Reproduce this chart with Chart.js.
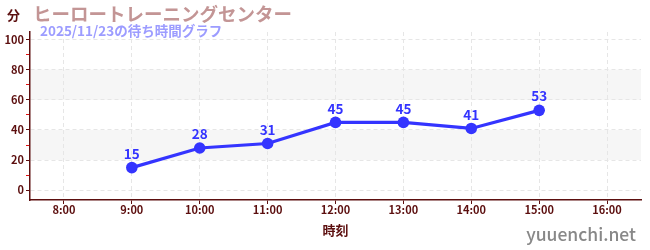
<!DOCTYPE html>
<html lang="ja">
<head>
<meta charset="utf-8">
<script src="https://cdn.jsdelivr.net/npm/chart.js@4"></script>
<style>
  html, body { margin: 0; padding: 0; background: #fff; }
  #wrap { width: 650px; height: 250px; position: relative; }
</style>
</head>
<body>
<div id="wrap"><canvas id="waitChart" width="650" height="250"></canvas></div>
<script>
// Data
const hours = [9, 10, 11, 12, 13, 14, 15];
const waitMinutes = [15, 28, 31, 45, 45, 41, 53];
const hourTicks = [8, 9, 10, 11, 12, 13, 14, 15, 16];
const titleText = 'ヒーロートレーニングセンター';
const subtitleText = '2025/11/23の待ち時間グラフ';
const yUnit = '分';
const xTitle = '時刻';
const watermark = 'yuuenchi.net';

const FONT = '"Noto Sans CJK JP", "Noto Sans", sans-serif';
const DARK = '#5c0f0f';
const BLUE = '#3434ff';

// Light gray bands behind the plot (drawn before the grid)
const bandsPlugin = {
  id: 'bands',
  beforeDraw(chart) {
    const { ctx, chartArea, scales } = chart;
    const y = scales.y;
    ctx.save();
    ctx.fillStyle = '#f6f6f6';
    [[20, 40], [60, 80]].forEach(([a, b]) => {
      const top = y.getPixelForValue(b);
      const bottom = y.getPixelForValue(a);
      ctx.fillRect(chartArea.left, top, chartArea.right - chartArea.left, bottom - top);
    });
    ctx.restore();
  }
};

// Value labels, titles and watermark
const textPlugin = {
  id: 'texts',
  afterDatasetsDraw(chart) {
    const { ctx } = chart;
    const meta = chart.getDatasetMeta(0);
    ctx.save();
    ctx.fillStyle = BLUE;
    ctx.font = 'bold 13.5px ' + FONT;
    ctx.textAlign = 'center';
    ctx.textBaseline = 'middle';
    meta.data.forEach((pt, i) => {
      ctx.fillText(String(waitMinutes[i]), pt.x, pt.y - 14);
    });
    ctx.restore();
  },
  afterDraw(chart) {
    const { ctx } = chart;
    ctx.save();
    ctx.textBaseline = 'middle';
    ctx.textAlign = 'left';

    ctx.fillStyle = DARK;
    ctx.font = 'bold 13px ' + FONT;
    ctx.fillText(yUnit, 7, 15);

    ctx.fillStyle = '#c39595';
    ctx.font = 'bold 18.5px ' + FONT;
    ctx.fillText(titleText, 33, 14);

    ctx.fillStyle = '#9c9cff';
    ctx.font = 'bold 13.5px ' + FONT;
    ctx.fillText(subtitleText, 40, 31);

    ctx.fillStyle = '#888888';
    ctx.font = '500 17.5px ' + FONT;
    ctx.textAlign = 'right';
    ctx.fillText(watermark, 636, 234);
    ctx.restore();
  }
};

new Chart(document.getElementById('waitChart'), {
  type: 'line',
  data: {
    datasets: [{
      data: hours.map((h, i) => ({ x: h, y: waitMinutes[i] })),
      borderColor: BLUE,
      backgroundColor: BLUE,
      borderWidth: 3.2,
      pointRadius: 5.8,
      pointHoverRadius: 5.8,
      pointBackgroundColor: BLUE,
      pointBorderWidth: 0,
      tension: 0
    }]
  },
  options: {
    responsive: false,
    animation: false,
    layout: { padding: { left: 0, right: 9, top: 32, bottom: 0 } },
    plugins: {
      legend: { display: false },
      tooltip: { enabled: false }
    },
    scales: {
      x: {
        type: 'linear',
        min: 7.5,
        max: 16.5,
        afterBuildTicks: (scale) => {
          scale.ticks = hourTicks.map((v) => ({ value: v }));
        },
        afterFit: (scale) => { scale.height = 50; },
        border: { color: DARK, width: 1.5, dash: [4, 3] },
        grid: {
          color: '#e6e6e6',
          tickColor: DARK,
          tickLength: 4,
          tickBorderDash: []
        },
        ticks: {
          color: DARK,
          font: { family: FONT, size: 11, weight: 'bold' },
          padding: -1,
          maxRotation: 0,
          autoSkip: false,
          callback: (v) => v + ':00'
        },
        title: {
          display: true,
          text: xTitle,
          color: DARK,
          font: { family: FONT, size: 13, weight: 'bold' },
          padding: { top: 0, bottom: 12 }
        }
      },
      y: {
        min: -6.5,
        max: 105,
        afterFit: (scale) => { scale.width = 30; },
        border: { color: DARK, width: 1.5, dash: [4, 3] },
        grid: {
          color: (c) => (c.tick && c.tick.value % 20 === 0) ? '#e6e6e6' : 'rgba(0,0,0,0)',
          tickColor: (c) => (c.tick && c.tick.value % 20 === 0) ? DARK : '#e01010',
          tickLength: 4,
          tickBorderDash: []
        },
        ticks: {
          stepSize: 10,
          includeBounds: false,
          color: DARK,
          font: { family: FONT, size: 11, weight: 'bold' },
          padding: 2,
          callback: (v) => v % 20 === 0 ? v : ''
        }
      }
    }
  },
  plugins: [bandsPlugin, textPlugin]
});
</script>
</body>
</html>
